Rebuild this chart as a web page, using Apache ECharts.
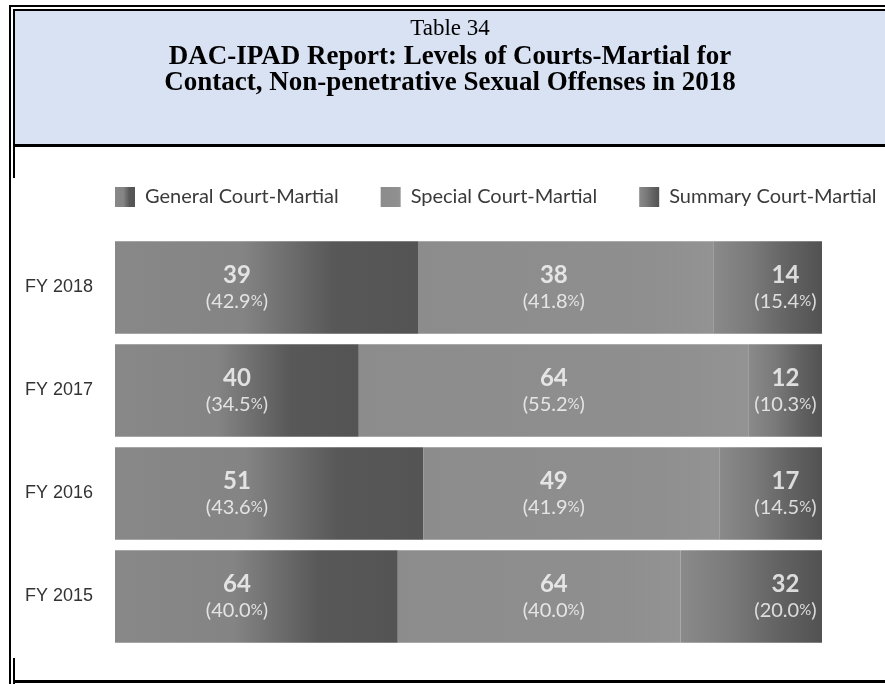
<!DOCTYPE html>
<html>
<head>
<meta charset="utf-8">
<title>Table 34</title>
<script src="https://cdn.jsdelivr.net/npm/echarts@6/dist/echarts.min.js"></script>
<style>
  html, body { margin: 0; padding: 0; background: #fff; }
  #chart { width: 885px; height: 684px; }
</style>
</head>
<body>
<div id="chart"></div>
<script>
// rows, top first
const years = ['FY 2018', 'FY 2017', 'FY 2016', 'FY 2015']
const seriesNames = ['General Court-Martial', 'Special Court-Martial', 'Summary Court-Martial']
const generalCounts = [39, 40, 51, 64]
const specialCounts = [38, 64, 49, 64]
const summaryCounts = [14, 12, 17, 32]
const counts = [generalCounts, specialCounts, summaryCounts]

const totals = years.map((y, i) => generalCounts[i] + specialCounts[i] + summaryCounts[i])
const shares = counts.map(arr => arr.map((v, i) => v / totals[i] * 100))

// in the source, every row's labels sit where the FY 2017 segments are centred
const refRow = 1
const anchors = []
let acc = 0
shares.forEach(s => {
  anchors.push(acc + s[refRow] / 2)
  acc += s[refRow]
})

const grad = (stops) => new echarts.graphic.LinearGradient(0, 0, 1, 0,
  stops.map(([offset, color]) => ({ offset, color })))

const fills = [
  grad([[0, '#888888'], [0.42, '#848484'], [0.72, '#585858'], [1, '#545454']]),
  grad([[0, '#8c8c8c'], [0.8, '#8f8f8f'], [1, '#939393']]),
  grad([[0, '#8a8a8a'], [0.35, '#7a7a7a'], [0.7, '#626262'], [1, '#525252']])
]

const barSeries = seriesNames.map((name, k) => ({
  name,
  type: 'bar',
  stack: 'total',
  barCategoryGap: '10%',
  silent: true,
  itemStyle: { color: fills[k] },
  data: shares[k]
}))

const labelSeries = seriesNames.map((name, k) => ({
  name: name + ' labels',
  type: 'scatter',
  symbolSize: 1,
  silent: true,
  z: 5,
  itemStyle: { color: 'rgba(0,0,0,0)' },
  label: {
    show: true,
    position: 'inside',
    color: '#fbfbfb',
    fontFamily: 'Lato',
    align: 'center',
    formatter: p => `{n|${p.value[2]}}\n{p|(${p.value[3].toFixed(1)}}{s|%}{p|)}`,
    rich: {
      n: { fontSize: 24, fontWeight: 'bold', lineHeight: 28, color: '#fbfbfb', fontFamily: 'Lato' },
      p: { fontSize: 20, lineHeight: 25, color: '#fbfbfb', fontFamily: 'Lato' },
      s: { fontSize: 15, lineHeight: 25, color: '#fbfbfb', fontFamily: 'Lato' }
    }
  },
  data: years.map((y, i) => [anchors[k], y, counts[k][i], shares[k][i]])
}))

const frameLine = (x1, y1, x2, y2, w) => ({
  type: 'line',
  shape: { x1, y1, x2, y2 },
  style: { stroke: '#000', lineWidth: w },
  silent: true
})

const option = {
  backgroundColor: '#fff',
  animation: false,
  title: [
    {
      text: 'Table 34',
      left: 450,
      top: 17,
      padding: 0,
      textAlign: 'center',
      textStyle: { fontFamily: 'Liberation Serif', fontWeight: 'normal', fontSize: 23, lineHeight: 23, color: '#000' }
    },
    {
      text: 'DAC-IPAD Report: Levels of Courts-Martial for\nContact, Non-penetrative Sexual Offenses in 2018',
      left: 450,
      top: 44,
      padding: 0,
      textAlign: 'center',
      textStyle: { fontFamily: 'Liberation Serif', fontWeight: 'bold', fontSize: 27, lineHeight: 26, color: '#000' }
    }
  ],
  graphic: [
    { type: 'rect', z: -10, shape: { x: 15, y: 11, width: 870, height: 133 }, style: { fill: '#d9e2f3' }, silent: true },
    frameLine(10, 5, 10, 684, 2),
    frameLine(9, 6, 885, 6, 2),
    frameLine(14, 9, 14, 178, 2),
    frameLine(13, 10, 885, 10, 2),
    frameLine(13, 145.5, 885, 145.5, 3),
    frameLine(14, 658, 14, 684, 2),
    frameLine(13, 681.5, 885, 681.5, 3)
  ],
  legend: {
    data: seriesNames,
    left: 115,
    top: 187,
    padding: 0,
    itemWidth: 20,
    itemHeight: 20,
    itemGap: 42,
    icon: 'rect',
    selectedMode: false,
    textStyle: { fontFamily: 'Lato', fontSize: 20, color: '#3a3a3a', padding: [0, 0, 0, 5] }
  },
  grid: { left: 115, right: 63, top: 236, bottom: 36 },
  xAxis: { type: 'value', min: 0, max: 100, show: false },
  yAxis: {
    type: 'category',
    inverse: true,
    data: years,
    axisLine: { show: false },
    axisTick: { show: false },
    axisLabel: { fontFamily: 'Liberation Sans', fontSize: 18, color: '#333', margin: 22 }
  },
  series: barSeries.concat(labelSeries)
}

const chart = echarts.init(document.getElementById('chart'))
chart.setOption(option)
</script>
</body>
</html>
